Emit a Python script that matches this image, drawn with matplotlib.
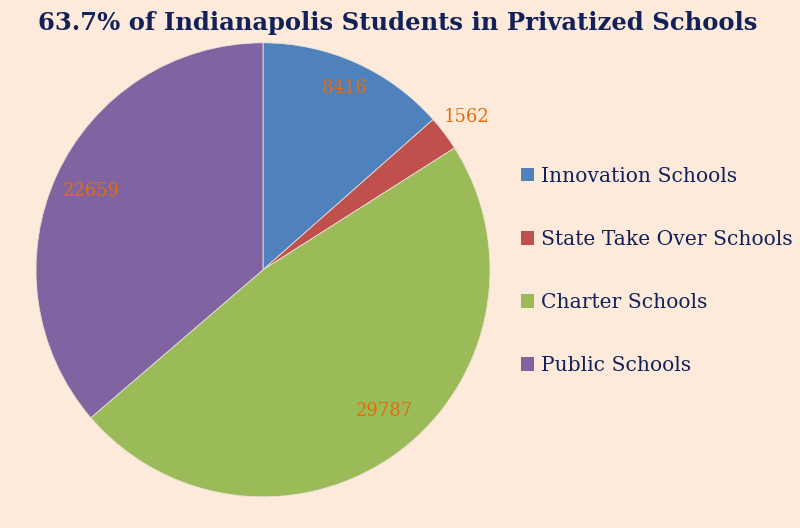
import numpy as np
import matplotlib.pyplot as plt
from matplotlib.patches import Patch

categories = ['Innovation Schools', 'State Take Over Schools', 'Charter Schools', 'Public Schools']
students = [8416, 1562, 29787, 22659]
colors = ['#4F81BD', '#C0504D', '#9BBB59', '#8064A2']
title = '63.7% of Indianapolis Students in Privatized Schools'

bg = '#FDEADA'
navy = '#12215A'
orange = '#E46C0A'

def main():
	plt.rcParams['font.family'] = ['DejaVu Serif']
	fig = plt.figure(figsize=(8, 5.28), dpi=100, facecolor=bg)
	ax = fig.add_axes([0.045, 0.059, 0.5675, 0.86])
	ax.set_facecolor(bg)
	wedges, _ = ax.pie(students, colors=colors, startangle=90, counterclock=False,
		radius=1, wedgeprops=dict(linewidth=0.6, edgecolor='#e8e0d8'))
	ax.set_xlim(-1, 1)
	ax.set_ylim(-1, 1)
	ax.set_aspect('equal')
	ax.axis('off')

	# label distance per wedge (the small one sits outside)
	dists = [0.88, 1.12, 0.82, 0.83]
	shifts = [0, 0, 4, 0]
	for w, v, d, s in zip(wedges, students, dists, shifts):
		ang = np.deg2rad((w.theta1 + w.theta2) / 2 + s)
		ax.text(d * np.cos(ang), d * np.sin(ang), str(v), ha='center', va='center',
			color=orange, fontsize=13)

	fig.text(0.497, 0.956, title, ha='center', va='center', fontsize=17.5,
		fontweight='bold', color=navy)

	handles = [Patch(facecolor=c, edgecolor='none') for c in colors]
	leg = fig.legend(handles, categories, loc='upper left', bbox_to_anchor=(0.628, 0.719),
		frameon=False, fontsize=14.6, labelspacing=2.18, handlelength=0.67,
		handleheight=0.67, handletextpad=0.33, labelcolor=navy)

	plt.savefig('out.png', dpi=100, facecolor=bg)

if __name__ == "__main__":
	main()
